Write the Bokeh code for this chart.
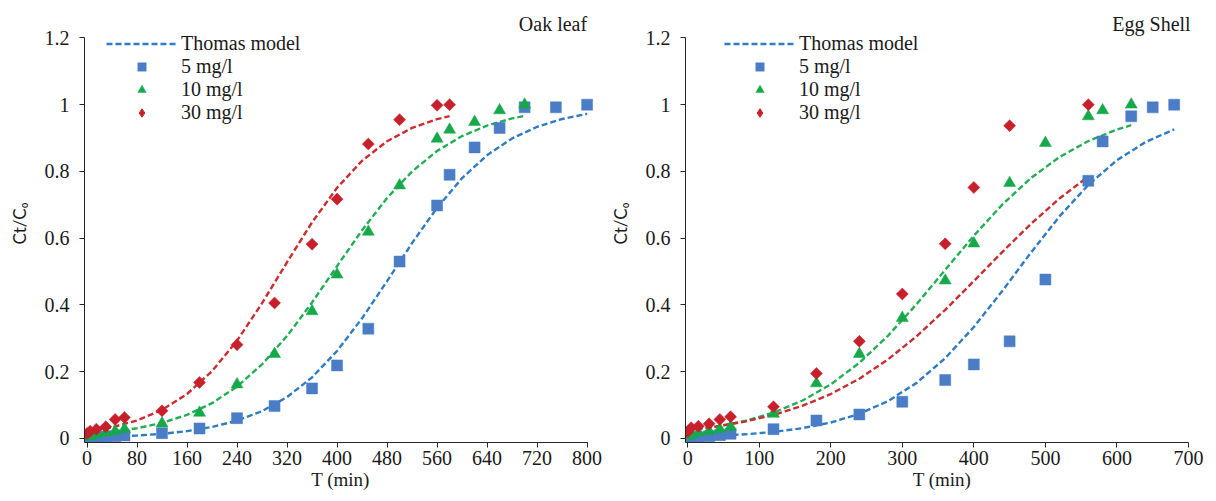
import math

from bokeh.embed import file_html
from bokeh.layouts import row
from bokeh.models import FixedTicker, Label, Legend, LegendItem, Range1d
from bokeh.plotting import figure
from bokeh.resources import INLINE

# ---------------- Oak leaf column ----------------
oak_t5 = [0, 5, 15, 30, 45, 60, 120, 180, 240, 300, 360, 400, 450, 500, 560, 580, 620, 660, 700, 750, 800]
oak_c5 = [0.0, 0.002, 0.003, 0.005, 0.007, 0.009, 0.016, 0.030, 0.061, 0.097, 0.150, 0.219, 0.329, 0.530,
          0.698, 0.790, 0.872, 0.930, 0.992, 0.992, 1.0]
oak_t10 = [0, 5, 15, 30, 45, 60, 120, 180, 240, 300, 360, 400, 450, 500, 560, 580, 620, 660, 700]
oak_c10 = [0.005, 0.008, 0.012, 0.018, 0.022, 0.028, 0.045, 0.077, 0.162, 0.253, 0.381, 0.491, 0.619, 0.758,
           0.898, 0.925, 0.948, 0.983, 1.0]
oak_t30 = [0, 5, 15, 30, 45, 60, 120, 180, 240, 300, 360, 400, 450, 500, 560, 580]
oak_c30 = [0.015, 0.022, 0.028, 0.035, 0.057, 0.063, 0.083, 0.168, 0.281, 0.406, 0.582, 0.717, 0.882, 0.955,
           0.998, 1.0]

# Thomas model curves (Oak leaf)
oak_model_t5 = [0, 40, 80, 120, 160, 200, 240, 280, 320, 360, 400, 440, 480, 520, 560, 600, 640, 680, 720, 760, 800]
oak_model_c5 = [0.0036, 0.0056, 0.0089, 0.0140, 0.0220, 0.0344, 0.0534, 0.0820, 0.1240, 0.1832, 0.2621, 0.3601,
                0.4713, 0.5854, 0.6910, 0.7799, 0.8488, 0.8989, 0.9337, 0.9571, 0.9725]
oak_model_t10 = [0, 40, 80, 120, 160, 200, 240, 280, 320, 360, 400, 440, 480, 520, 560, 600, 640, 680, 700]
oak_model_c10 = [0.0129, 0.0200, 0.0306, 0.0468, 0.0708, 0.1058, 0.1553, 0.2220, 0.3070, 0.4076, 0.5165, 0.6239,
                 0.7203, 0.8000, 0.8613, 0.9060, 0.9374, 0.9588, 0.9666]
oak_model_t30 = [0, 40, 80, 120, 160, 200, 240, 280, 320, 360, 400, 440, 480, 520, 560, 580]
oak_model_c30 = [0.0207, 0.0336, 0.0540, 0.0856, 0.1333, 0.2016, 0.2932, 0.4052, 0.5280, 0.6475, 0.7510, 0.8320,
                 0.8905, 0.9303, 0.9564, 0.9656]

# ---------------- Egg Shell column ----------------
egg_t5 = [0, 5, 15, 30, 45, 60, 120, 180, 240, 300, 360, 400, 450, 500, 560, 580, 620, 650, 680]
egg_c5 = [0.0, 0.002, 0.004, 0.007, 0.010, 0.014, 0.028, 0.054, 0.072, 0.110, 0.175, 0.222, 0.291, 0.476,
          0.772, 0.890, 0.965, 0.992, 1.0]
egg_t10 = [0, 5, 15, 30, 45, 60, 120, 180, 240, 300, 360, 400, 450, 500, 560, 580, 620]
egg_c10 = [0.008, 0.012, 0.018, 0.022, 0.028, 0.035, 0.074, 0.165, 0.253, 0.361, 0.473, 0.584, 0.765, 0.885,
           0.965, 0.983, 1.0]
egg_t30 = [0, 5, 15, 30, 45, 60, 120, 180, 240, 300, 360, 400, 450, 560]
egg_c30 = [0.020, 0.032, 0.037, 0.044, 0.057, 0.065, 0.095, 0.195, 0.291, 0.433, 0.583, 0.752, 0.937, 1.0]

# Thomas model curves (Egg Shell)
egg_model_t5 = [0, 40, 80, 120, 160, 200, 240, 280, 320, 360, 400, 440, 480, 520, 560, 600, 640, 680]
egg_model_c5 = [0.0050, 0.0079, 0.0125, 0.0197, 0.0308, 0.0479, 0.0738, 0.1121, 0.1666, 0.2405, 0.3340, 0.4427,
                0.5573, 0.6660, 0.7595, 0.8334, 0.8880, 0.9260]
egg_model_t10 = [0, 40, 80, 120, 160, 200, 240, 280, 320, 360, 400, 440, 480, 520, 560, 600, 620]
egg_model_c10 = [0.0236, 0.0353, 0.0526, 0.0776, 0.1131, 0.1620, 0.2267, 0.3077, 0.4025, 0.5053, 0.6075, 0.7012,
                 0.7806, 0.8435, 0.8910, 0.9253, 0.9384]
egg_model_t30 = [0, 40, 80, 120, 160, 200, 240, 280, 320, 360, 400, 440, 480, 520, 560]
egg_model_c30 = [0.0257, 0.0362, 0.0507, 0.0706, 0.0975, 0.1331, 0.1791, 0.2369, 0.3062, 0.3855, 0.4715, 0.5592,
                 0.6434, 0.7195, 0.7848]

series_labels = ["5 mg/l", "10 mg/l", "30 mg/l"]
model_label = "Thomas model"
y_ticks = [0, 0.2, 0.4, 0.6, 0.8, 1, 1.2]
y_tick_labels = ["0", "0.2", "0.4", "0.6", "0.8", "1", "1.2"]
oak_x_ticks = [0, 80, 160, 240, 320, 400, 480, 560, 640, 720, 800]
egg_x_ticks = [0, 100, 200, 300, 400, 500, 600, 700]

LINE_COLORS = ["#2E7BC6", "#22AE55", "#CD2B2E"]
MARK_COLORS = ["#4A7DC6", "#15A94A", "#C8202A"]
SERIF = "Liberation Serif"
AXIS_COLOR = "#262626"
TEXT_COLOR = "#1a1a1a"

Y_START, Y_END = -0.012, 1.3


def make_panel(title, title_x, x_ticks, x_start, x_end, width, border_left, border_right,
               points, curves, legend_x):
    p = figure(width=width, height=501, output_backend="svg", toolbar_location=None,
               x_range=Range1d(x_start, x_end), y_range=Range1d(Y_START, Y_END),
               min_border_left=border_left, min_border_right=border_right,
               min_border_top=4, min_border_bottom=59)
    p.outline_line_color = None
    p.xgrid.visible = False
    p.ygrid.visible = False
    p.background_fill_color = "white"
    p.border_fill_color = "white"

    # dashed Thomas model curves
    line_renderers = []
    for (tm, cm), color in zip(curves, LINE_COLORS):
        r = p.line(tm, cm, line_color=color, line_width=2.4, line_dash="6 3")
        line_renderers.append(r)

    # measured breakthrough points
    marks = [dict(marker="square", size=11, angle=0.0),
             dict(marker="triangle", size=12, angle=0.0),
             dict(marker="square", size=8.5, angle=math.pi / 4)]
    mark_renderers = []
    for (tp, cp), color, m in zip(points, MARK_COLORS, marks):
        r = p.scatter(tp, cp, marker=m["marker"], size=m["size"], angle=m["angle"],
                      fill_color=color, line_color=color, line_width=0.5)
        mark_renderers.append(r)

    # legend key for the diamond series (legends do not rotate marker glyphs);
    # a single NaN entry keeps it out of the plot area
    diamond_key = p.scatter([float("nan")], [float("nan")], marker="diamond", size=10,
                            fill_color=MARK_COLORS[2], line_color=MARK_COLORS[2])

    for ax in (p.xaxis[0], p.yaxis[0]):
        ax.axis_line_color = AXIS_COLOR
        ax.major_tick_line_color = AXIS_COLOR
        ax.minor_tick_line_color = None
        ax.major_tick_in = 0
        ax.major_tick_out = 5
        ax.major_label_text_font = SERIF
        ax.major_label_text_font_size = "20px"
        ax.major_label_text_color = TEXT_COLOR

    p.xaxis.ticker = FixedTicker(ticks=x_ticks)
    p.xaxis.bounds = (x_start, x_ticks[-1])
    p.xaxis.major_label_standoff = 3
    p.xaxis.axis_label = "T (min)"
    p.xaxis.axis_label_text_font = SERIF
    p.xaxis.axis_label_text_font_size = "19px"
    p.xaxis.axis_label_text_font_style = "normal"
    p.xaxis.axis_label_text_color = TEXT_COLOR
    p.xaxis.axis_label_standoff = 1

    p.yaxis.ticker = FixedTicker(ticks=y_ticks)
    p.yaxis.bounds = (Y_START, y_ticks[-1])
    p.yaxis.major_label_overrides = {v: s for v, s in zip(y_ticks, y_tick_labels)}
    p.yaxis.major_label_standoff = 10
    p.yaxis.axis_label = "Ct/C\u2080"
    p.yaxis.axis_label_text_font = "Lato"
    p.yaxis.axis_label_text_font_size = "17px"
    p.yaxis.axis_label_text_font_style = "normal"
    p.yaxis.axis_label_text_color = TEXT_COLOR
    p.yaxis.axis_label_standoff = 12

    p.add_layout(Label(x=title_x, y=1.243, text=title, text_align="right", text_baseline="middle",
                       text_font=SERIF, text_font_size="20px", text_color=TEXT_COLOR))

    items = [LegendItem(label=model_label, renderers=[line_renderers[0]]),
             LegendItem(label=series_labels[0], renderers=[mark_renderers[0]]),
             LegendItem(label=series_labels[1], renderers=[mark_renderers[1]]),
             LegendItem(label=series_labels[2], renderers=[diamond_key])]
    legend = Legend(items=items, location=(legend_x, 318), glyph_width=71, glyph_height=21,
                    label_height=21, spacing=0, padding=0, margin=0, label_standoff=4,
                    border_line_color=None, background_fill_alpha=0,
                    label_text_font=SERIF, label_text_font_size="20px", label_text_color=TEXT_COLOR)
    p.add_layout(legend)
    return p


oak = make_panel("Oak leaf", 800, oak_x_ticks, -4, 815, 606, 84, 10,
                 [(oak_t5, oak_c5), (oak_t10, oak_c10), (oak_t30, oak_c30)],
                 [(oak_model_t5, oak_model_c5), (oak_model_t10, oak_model_c10), (oak_model_t30, oak_model_c30)],
                 22)
egg = make_panel("Egg Shell", 703, egg_x_ticks, -3, 714, 610, 78, 18,
                 [(egg_t5, egg_c5), (egg_t10, egg_c10), (egg_t30, egg_c30)],
                 [(egg_model_t5, egg_model_c5), (egg_model_t10, egg_model_c10), (egg_model_t30, egg_model_c30)],
                 39)

layout = row(oak, egg, spacing=0)
open("out.html", "w").write(file_html(layout, INLINE))
